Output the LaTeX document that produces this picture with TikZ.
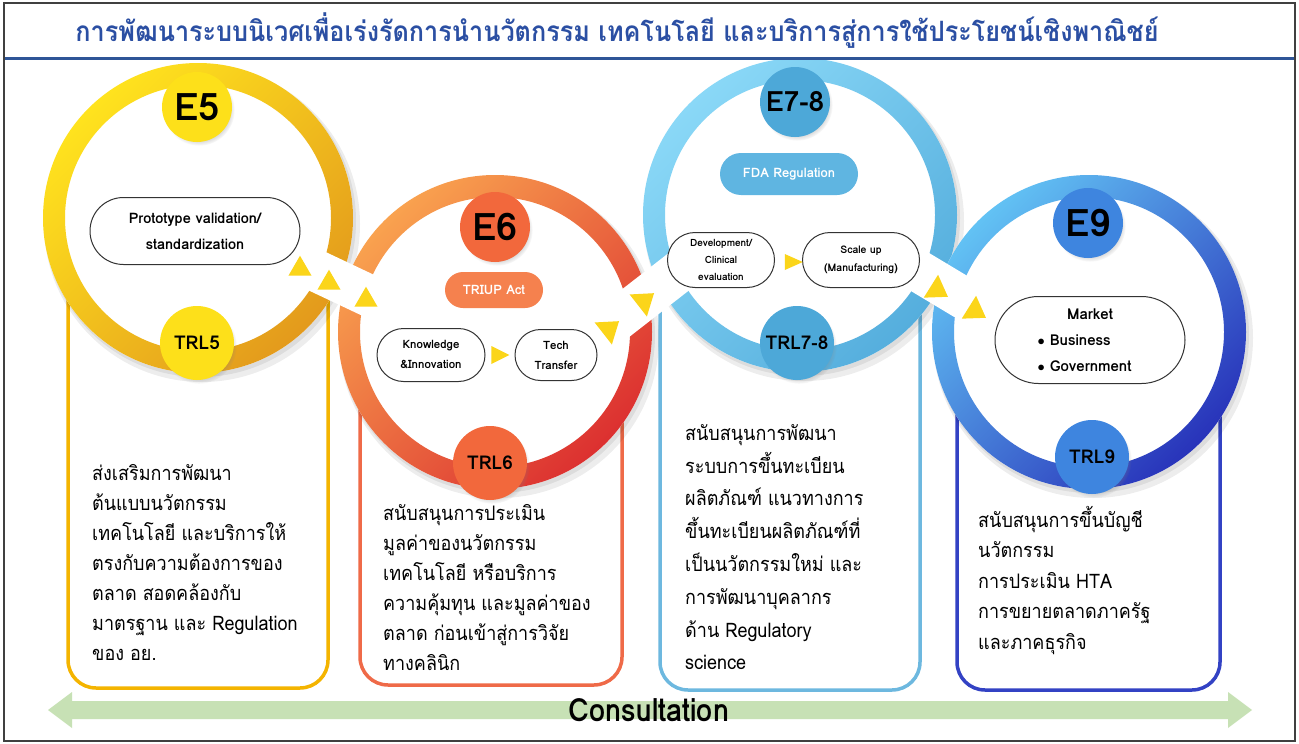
\documentclass[tikz,border=0pt]{standalone}
\usepackage{fontspec}
\setmainfont[Script=Thai]{Loma}
\newfontfamily\thaicond[Script=Thai,FakeStretch=0.9]{Loma}
\usetikzlibrary{shapes.misc,shapes.geometric,shadows}
\definecolor{titleblue}{HTML}{2B4FA3}
\definecolor{lineblue}{HTML}{2F5597}
\definecolor{yA}{HTML}{FFE31E}
\definecolor{yB}{HTML}{E39A1C}
\definecolor{oA}{HTML}{F9A24F}
\definecolor{oB}{HTML}{DC3030}
\definecolor{bA}{HTML}{8AD8F7}
\definecolor{bB}{HTML}{55AEDD}
\definecolor{dA}{HTML}{62C2F4}
\definecolor{dB}{HTML}{2833BA}
\definecolor{boxY}{HTML}{F4B400}
\definecolor{boxO}{HTML}{EF6A48}
\definecolor{boxB}{HTML}{6DB8DF}
\definecolor{boxD}{HTML}{3342C4}
\definecolor{lblY}{HTML}{FDE01A}
\definecolor{lblO}{HTML}{F2683C}
\definecolor{lblB}{HTML}{4DA8D8}
\definecolor{lblD}{HTML}{3E85DF}
\definecolor{triY}{HTML}{FBD51A}
\definecolor{consG}{HTML}{C7E1B5}
\definecolor{pillO}{HTML}{F5814E}
\definecolor{pillB}{HTML}{5FB5E1}
\begin{document}
\begin{tikzpicture}[x=1pt,y=-1pt,
  txtbox/.style={line width=3.5pt, rounded corners=28pt},
  bodytext/.style={anchor=north west, align=left, inner sep=0pt, font=\thaicond\fontsize{20}{30}\selectfont},
  elbl/.style={circle, minimum size=70pt, inner sep=0pt, font=\bfseries\fontsize{38}{38}\selectfont,
     circular drop shadow={shadow xshift=2pt, shadow yshift=-3pt, opacity=.3, shadow scale=1.02}},
  trllbl/.style={circle, minimum size=74pt, inner sep=0pt, font=\bfseries\fontsize{19}{19}\selectfont,
     circular drop shadow={shadow xshift=2pt, shadow yshift=-3pt, opacity=.3, shadow scale=1.02}},
  inbox/.style={rounded rectangle, draw=black!80, line width=1pt, fill=white, align=center, inner sep=0pt},
  tagpill/.style={rounded rectangle, inner sep=0pt, text=white, font=\bfseries\fontsize{13}{13}\selectfont},
  arrowtri/.style={isosceles triangle, isosceles triangle stretches, fill=triY, inner sep=0pt},
  gapband/.style={white, line width=42pt},
]
\useasboundingbox (0,0) rectangle (1299,744);
\fill[white] (0,0) rectangle (1299,744);

% ---------- text boxes ----------
\draw[txtbox, boxY] (68,218) rectangle (328,688);
\draw[txtbox, boxO] (360,332) rectangle (622,685);
\draw[txtbox, boxB] (660,215) rectangle (920,690);
\draw[txtbox, boxD] (957,332) rectangle (1220,690);

% ---------- rings ----------
\fill[black,opacity=.07] (202,224) circle (158pt);
\fill[black,opacity=.07] (200,221) circle (156pt);
\fill[white] (198,218) circle (155pt);
\shade[even odd rule, top color=yA, bottom color=yB, shading angle=45] (198,218) circle (155pt) (198,218) circle (133pt);

\fill[black,opacity=.07] (499,338) circle (160pt);
\fill[black,opacity=.07] (497,335) circle (158pt);
\fill[white] (495,332) circle (157pt);
\shade[even odd rule, top color=oA, bottom color=oB, shading angle=45] (495,332) circle (157pt) (495,332) circle (135pt);

\fill[black,opacity=.07] (804,221) circle (160pt);
\fill[black,opacity=.07] (802,218) circle (158pt);
\fill[white] (800,215) circle (157pt);
\shade[even odd rule, top color=bA, bottom color=bB, shading angle=45] (800,215) circle (157pt) (800,215) circle (135pt);

\fill[black,opacity=.07] (1093,338) circle (160pt);
\fill[black,opacity=.07] (1091,335) circle (158pt);
\fill[white] (1089,332) circle (157pt);
\shade[even odd rule, top color=dA, bottom color=dB, shading angle=45] (1089,332) circle (157pt) (1089,332) circle (135pt);

% ---------- white cuts at the junctions ----------
\coordinate (g1a) at (285,256); \coordinate (g1b) at (395,308);
\coordinate (g2a) at (595,337); \coordinate (g2b) at (690,263);
\coordinate (g3a) at (895,257); \coordinate (g3b) at (995,317);
\draw[gapband] (g1a) -- (g1b);
\draw[gapband] (g2a) -- (g2b);
\draw[gapband] (g3a) -- (g3b);

% ---------- header ----------
\draw[lineblue, line width=3pt] (4,58) -- (1295,58);
\node[text=titleblue, font=\thaicond\bfseries\fontsize{28}{28}\selectfont] (title) at (617,31) {การพัฒนาระบบนิเวศเพื่อเร่งรัดการนำนวัตกรรม เทคโนโลยี และบริการสู่การใช้ประโยชน์เชิงพาณิชย์};

% ---------- stage labels ----------
\node[elbl, fill=lblY] (e5) at (197,107) {E5};
\node[trllbl, fill=lblY] (trl5) at (197,343) {TRL5};
\node[elbl, fill=lblO] (e6) at (495,227) {E6};
\node[trllbl, fill=lblO] (trl6) at (490,463) {TRL6};
\node[elbl, fill=lblB, font=\bfseries\fontsize{28}{28}\selectfont] (e78) at (795,102) {E7-8};
\node[trllbl, fill=lblB] (trl78) at (797,343) {TRL7-8};
\node[elbl, fill=lblD] (e9) at (1088,223) {E9};
\node[trllbl, fill=lblD] (trl9) at (1092,457) {TRL9};

% ---------- inner boxes ----------
\node[inbox, minimum width=210pt, minimum height=67pt, font=\bfseries\fontsize{14.5}{26}\selectfont] (proto) at (195,231) {Prototype validation/\\standardization};
\node[tagpill, fill=pillO, minimum width=98pt, minimum height=36pt] (triup) at (494,290) {TRIUP Act};
\node[inbox, minimum width=108pt, minimum height=53pt, font=\bfseries\fontsize{11.5}{20}\selectfont] (know) at (431,355) {Knowledge\\\&Innovation};
\node[inbox, minimum width=82pt, minimum height=51pt, font=\bfseries\fontsize{11.5}{20}\selectfont] (tech) at (556,355) {Tech\\Transfer};
\node[tagpill, fill=pillB, minimum width=138pt, minimum height=42pt] (fda) at (789,174) {FDA Regulation};
\node[inbox, minimum width=107pt, minimum height=55pt, font=\bfseries\fontsize{10}{17}\selectfont] (dev) at (721,260) {Development/\\Clinical\\evaluation};
\node[inbox, minimum width=117pt, minimum height=55pt, font=\bfseries\fontsize{10.5}{18}\selectfont] (scale) at (861,260) {Scale up\\(Manufacturing)};
\node[inbox, minimum width=190pt, minimum height=87pt, align=left, font=\bfseries\fontsize{15}{26}\selectfont] (market) at (1090,340) {\makebox[105pt][c]{Market}\\$\bullet$ Business\\$\bullet$ Government};

% ---------- yellow arrow heads ----------
\node[arrowtri, minimum width=23pt, minimum height=20pt, rotate=-30] (t1) at (300,269) {};
\node[arrowtri, minimum width=23pt, minimum height=20pt, rotate=-30] (t2) at (329,283) {};
\node[arrowtri, minimum width=23pt, minimum height=20pt, rotate=-30] (t3) at (366,300) {};
\node[arrowtri, minimum width=18pt, minimum height=18pt] (s1) at (497,355) {};
\node[arrowtri, minimum width=28pt, minimum height=20pt, rotate=38] (t4) at (609,329) {};
\node[arrowtri, minimum width=28pt, minimum height=20pt, rotate=38] (t5) at (644,301) {};
\node[arrowtri, minimum width=16pt, minimum height=18pt] (s2) at (790,262) {};
\node[arrowtri, minimum width=27pt, minimum height=20pt, rotate=-32] (t6) at (937,290) {};
\node[arrowtri, minimum width=27pt, minimum height=20pt, rotate=-32] (t7) at (975,311) {};

% ---------- body texts ----------
\node[bodytext] (txt5) at (92,458) {\rule{0pt}{22pt}ส่งเสริมการพัฒนา\\ต้นแบบนวัตกรรม\\เทคโนโลยี และบริการให้\\ตรงกับความต้องการของ\\ตลาด สอดคล้องกับ\\มาตรฐาน และ Regulation\\ของ อย.};
\node[bodytext] (txt6) at (383,498) {\rule{0pt}{22pt}สนับสนุนการประเมิน\\มูลค่าของนวัตกรรม\\เทคโนโลยี หรือบริการ\\ความคุ้มทุน และมูลค่าของ\\ตลาด ก่อนเข้าสู่การวิจัย\\ทางคลินิก};
\node[bodytext, font=\thaicond\fontsize{20}{32.8}\selectfont] (txt78) at (685,418) {\rule{0pt}{22pt}สนับสนุนการพัฒนา\\ระบบการขึ้นทะเบียน\\ผลิตภัณฑ์ แนวทางการ\\ขึ้นทะเบียนผลิตภัณฑ์ที่\\เป็นนวัตกรรมใหม่ และ\\การพัฒนาบุคลากร\\ด้าน Regulatory\\science};
\node[bodytext, font=\thaicond\fontsize{20}{30.5}\selectfont] (txt9) at (978,505) {\rule{0pt}{22pt}สนับสนุนการขึ้นบัญชี\\นวัตกรรม\\การประเมิน HTA\\การขยายตลาดภาครัฐ\\และภาคธุรกิจ};

% ---------- consultation ----------
\fill[consG] (48,710) -- (72,692) -- (72,701) -- (1228,701) -- (1228,692) -- (1252,710) -- (1228,728) -- (1228,719) -- (72,719) -- (72,728) -- cycle;
\node[font=\thaicond\bfseries\fontsize{32}{32}\selectfont] (cons) at (649,710) {Consultation};

% ---------- frame ----------
\draw[black!75, line width=1.3pt] (4,3) rectangle (1295,741);
\end{tikzpicture}
\end{document}
